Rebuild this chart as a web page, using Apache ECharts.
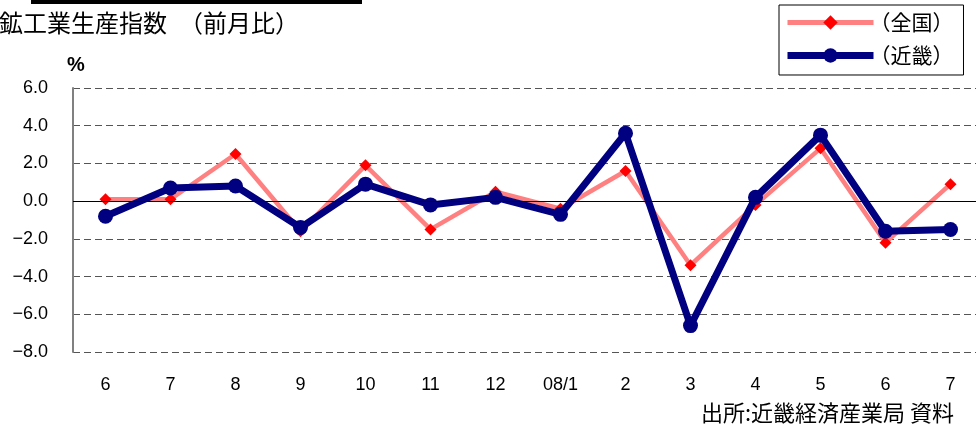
<!DOCTYPE html>
<html><head><meta charset="utf-8">
<script src="https://cdn.jsdelivr.net/npm/echarts@6/dist/echarts.min.js"></script>
<style>html,body{margin:0;padding:0;background:#fff;overflow:hidden;}#c{width:984px;height:432px;}</style>
</head><body><div id="c"></div>
<script>
const categories = ['6','7','8','9','10','11','12','08/1','2','3','4','5','6','7'];
const national = [0.1, 0.1, 2.5, -1.6, 1.9, -1.5, 0.5, -0.4, 1.6, -3.4, -0.2, 2.8, -2.2, 0.9];
const kinki = [-0.8, 0.7, 0.8, -1.4, 0.9, -0.2, 0.2, -0.7, 3.6, -6.6, 0.2, 3.5, -1.6, -1.5];
const yMin = -8, yMax = 6, yStep = 2;
const FONT = '"Liberation Sans","Noto Sans CJK JP",sans-serif';
const CJK = '"Noto Sans CJK JP","Liberation Sans",sans-serif';

const chart = echarts.init(document.getElementById('c'));
chart.setOption({
  animation: false,
  backgroundColor: '#fff',
  title: {
    text: '鉱工業生産指数　（前月比）',
    left: -6, top: 6,
    textStyle: {fontFamily: CJK, fontSize: 24, fontWeight: 'normal', color: '#000'}
  },
  graphic: [
    {type: 'rect', shape: {x: 31, y: 0, width: 331, height: 4}, style: {fill: '#000'}},
    {type: 'text', left: 701, top: 402,
     style: {text: '出所:近畿経済産業局 資料', font: '22px "Noto Sans CJK JP"', fill: '#000'}},
    {type: 'text', left: 67, top: 55,
     style: {text: '%', font: 'bold 20px "Liberation Sans"', fill: '#000'}}
  ],
  legend: {
    orient: 'vertical',
    left: 779, top: 5,
    width: 176,
    padding: [7, 10, 9, 5],
    itemGap: 12,
    itemWidth: 86, itemHeight: 18,
    borderColor: '#000', borderWidth: 1,
    textStyle: {fontFamily: CJK, fontSize: 21, color: '#000', padding: [0, 0, 0, -9]},
    data: [
      {name: '（全国）', lineStyle: {width: 5, color: '#ff8080'}},
      {name: '（近畿）', lineStyle: {width: 7, color: '#000080'}}
    ]
  },
  grid: {left: 73, top: 88, width: 910, height: 264},
  xAxis: {
    type: 'category', data: categories, boundaryGap: true,
    axisLine: {show: false}, axisTick: {show: false},
    axisLabel: {margin: 24, fontSize: 18, color: '#000', fontFamily: FONT, interval: 0}
  },
  yAxis: {
    type: 'value', min: yMin, max: yMax, interval: yStep,
    axisLine: {show: true, lineStyle: {color: '#808080', width: 2}},
    axisTick: {show: false},
    axisLabel: {margin: 25, fontSize: 18, color: '#000', fontFamily: FONT,
      formatter: v => v.toFixed(1).replace('-', '−')},
    splitLine: {show: true, lineStyle: {color: '#555', type: [7, 4], width: 1}}
  },
  series: [
    {
      name: '（全国）', type: 'line', data: national,
      symbol: 'diamond', symbolSize: 12,
      itemStyle: {color: '#ff0000'},
      lineStyle: {color: '#ff8080', width: 4.5},
      markLine: {silent: true, symbol: 'none', label: {show: false},
        lineStyle: {color: '#000', type: 'solid', width: 1},
        data: [{yAxis: 0}]},
      z: 2
    },
    {
      name: '（近畿）', type: 'line', data: kinki,
      symbol: 'circle', symbolSize: 15,
      itemStyle: {color: '#000080'},
      lineStyle: {color: '#000080', width: 7},
      z: 3
    }
  ]
});
</script></body></html>
